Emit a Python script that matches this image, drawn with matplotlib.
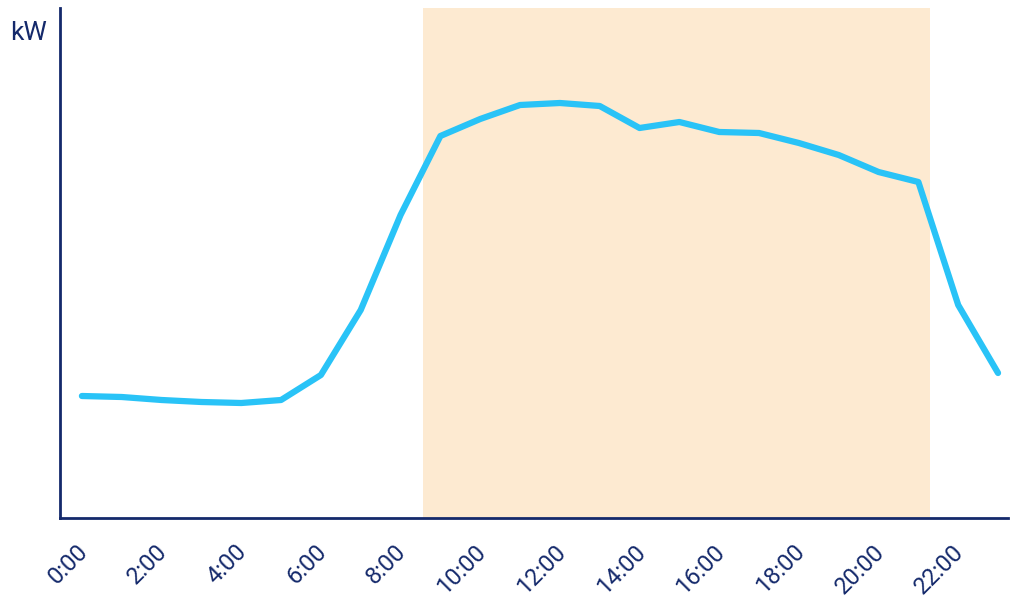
import matplotlib
matplotlib.use("Agg")
import matplotlib.pyplot as plt
import matplotlib.transforms as mtransforms

# hourly load profile (kW, arbitrary scale)
hours = list(range(24))
load = [122, 121, 118, 116, 115, 118, 143, 208, 303, 382, 399, 413,
        415, 412, 390, 396, 386, 385, 375, 363, 346, 336, 213, 145]
tick_hours = list(range(0, 24, 2))
tick_labels = [f"{h}:00" for h in tick_hours]
shade_start, shade_end = 8.56, 21.29

navy = "#14296b"
line_col = "#29c3f7"
shade_col = "#fdead1"

plt.rcParams["font.family"] = ["Roboto", "DejaVu Sans"]

fig = plt.figure(figsize=(10.10, 6.01), dpi=100)
ax = fig.add_axes([60 / 1010, 83 / 601, 948 / 1010, 510 / 601])

ax.axvspan(shade_start, shade_end, color=shade_col, lw=0, zorder=0)
ax.plot(hours, load, color=line_col, lw=4.5, solid_capstyle="round",
        solid_joinstyle="round", zorder=3)

ax.set_xlim(-0.55, 23.25)
ax.set_ylim(0, 510)

for s in ["top", "right"]:
    ax.spines[s].set_visible(False)
for s in ["left", "bottom"]:
    ax.spines[s].set_color(navy)
    ax.spines[s].set_linewidth(2)

ax.set_yticks([])
ax.set_xticks(tick_hours)
ax.set_xticklabels(tick_labels, rotation=45, ha="right",
                   rotation_mode="anchor", fontsize=17, color=navy)
ax.tick_params(axis="x", length=0, pad=16)
shift = mtransforms.ScaledTranslation(-6 / 100, 0, fig.dpi_scale_trans)
for lab in ax.get_xticklabels():
    lab.set_transform(lab.get_transform() + shift)

fig.text(10 / 1010, 1 - 40 / 601, "kW", fontsize=19, color=navy)

fig.savefig("out.png", dpi=100)
